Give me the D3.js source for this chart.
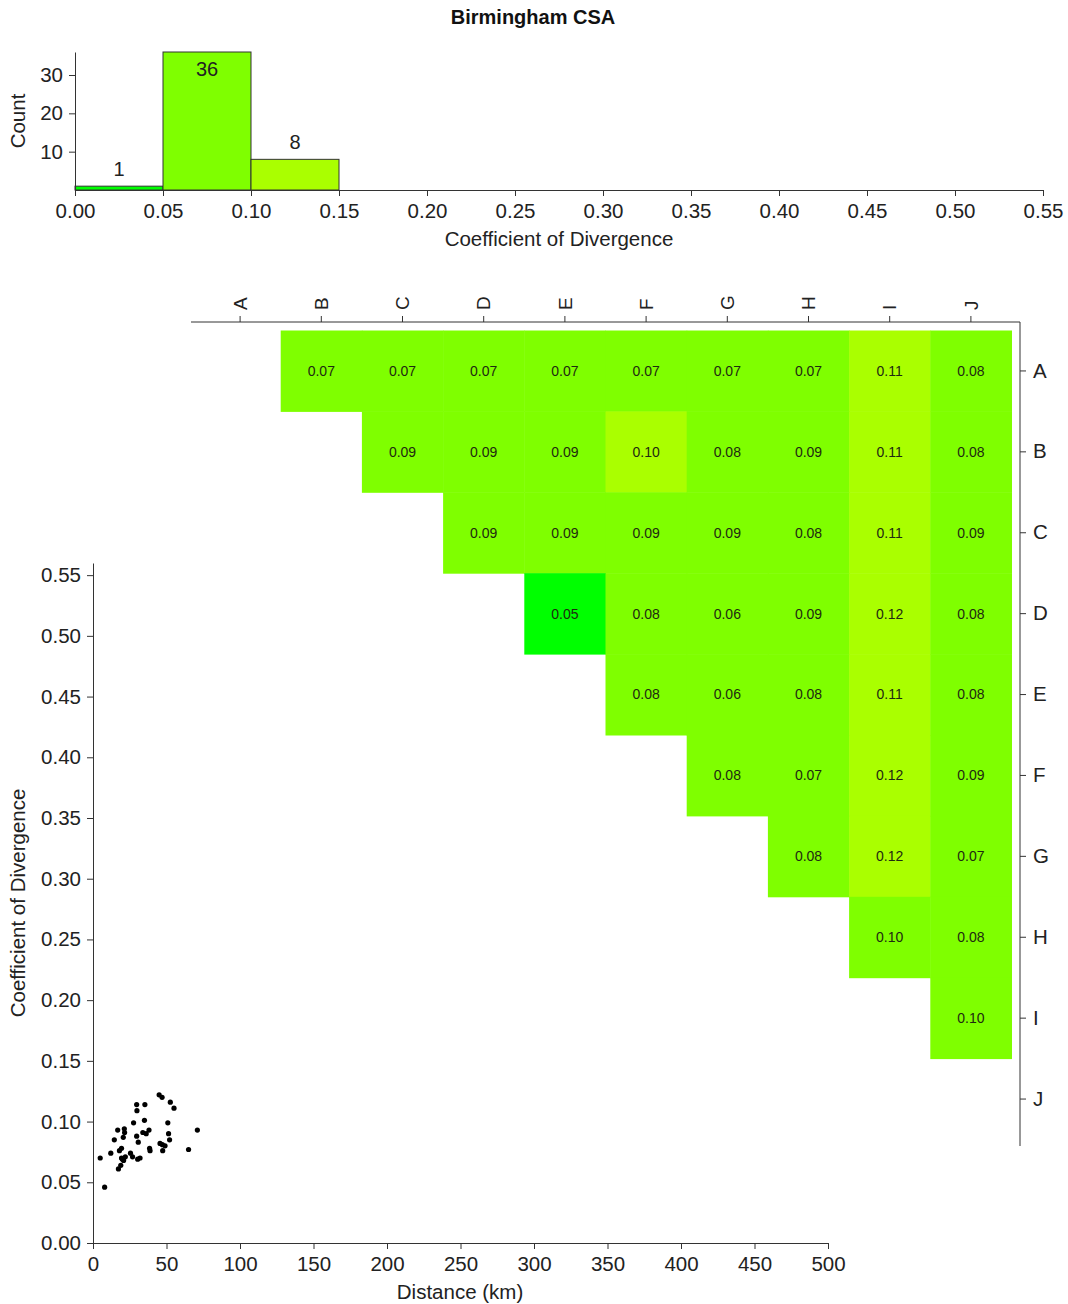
<!DOCTYPE html>
<html>
<head>
<meta charset="utf-8">
<script src="https://cdn.jsdelivr.net/npm/d3@7"></script>
<style>
  body { margin: 0; background: #fff; }
  svg { display: block; font-family: "Liberation Sans", Arial, sans-serif; }
  .axis path, .axis line { stroke: #333; stroke-width: 1; }
  .axis text { fill: #222; }
</style>
</head>
<body>
<svg id="chart" width="1068" height="1304"></svg>
<script>
// ---------- DATA ----------
const title = "Birmingham CSA";
const sites = ["A", "B", "C", "D", "E", "F", "G", "H", "I", "J"];

// histogram of COD values (bin width 0.05)
const binEdges = [0.00, 0.05, 0.10, 0.15, 0.20, 0.25, 0.30, 0.35, 0.40, 0.45, 0.50, 0.55];
const binCounts = [1, 36, 8, 0, 0, 0, 0, 0, 0, 0, 0];
const histYTicks = [10, 20, 30];

// pairwise COD matrix (row site vs column site), upper triangle only
const codRowA = [null, 0.07, 0.07, 0.07, 0.07, 0.07, 0.07, 0.07, 0.11, 0.08];
const codRowB = [null, null, 0.09, 0.09, 0.09, 0.102, 0.08, 0.09, 0.11, 0.08];
const codRowC = [null, null, null, 0.09, 0.09, 0.09, 0.09, 0.08, 0.11, 0.09];
const codRowD = [null, null, null, null, 0.049, 0.08, 0.06, 0.09, 0.12, 0.08];
const codRowE = [null, null, null, null, null, 0.08, 0.06, 0.08, 0.11, 0.08];
const codRowF = [null, null, null, null, null, null, 0.08, 0.07, 0.12, 0.09];
const codRowG = [null, null, null, null, null, null, null, 0.08, 0.12, 0.07];
const codRowH = [null, null, null, null, null, null, null, null, 0.098, 0.08];
const codRowI = [null, null, null, null, null, null, null, null, null, 0.098];
const codRowJ = [null, null, null, null, null, null, null, null, null, null];

// scatter: distance (km) vs COD for each pair
const distKm = [4.9, 7.9, 12.1, 14.5, 16.8, 17.3, 18.0, 18.9, 19.4, 19.4, 20.6, 21.3, 21.5, 20.8, 22.0,
                25.5, 26.9, 27.6, 29.7, 29.9, 29.7, 30.8, 30.4, 32.0, 33.9, 35.0, 35.3, 36.2, 38.5, 38.8,
                38.1, 45.6, 47.2, 47.4, 47.0, 49.0, 50.9, 51.4, 52.1, 52.6, 55.1, 65.0, 71.0, 45.0, 20.0];
const codVals = [0.070, 0.046, 0.074, 0.085, 0.093, 0.061, 0.076, 0.064, 0.070, 0.078, 0.087, 0.094, 0.091, 0.068, 0.071,
                 0.074, 0.071, 0.099, 0.114, 0.109, 0.088, 0.083, 0.069, 0.070, 0.091, 0.101, 0.114, 0.090, 0.078, 0.076,
                 0.093, 0.082, 0.081, 0.076, 0.120, 0.080, 0.099, 0.090, 0.085, 0.116, 0.111, 0.077, 0.093, 0.122, 0.069];

const colorThresholds = [0.05, 0.10];
const colorRange = ["#00ff00", "#7fff00", "#aaff00"];

// ---------- CHART ----------
const svg = d3.select("#chart");
const color = d3.scaleThreshold().domain(colorThresholds).range(colorRange);
const fmt2 = d3.format(".2f");
const FS = "20.5px";

svg.append("text").attr("x", 533).attr("y", 24).attr("text-anchor", "middle")
  .style("font-size", "20px").style("font-weight", "bold").attr("fill", "#111").text(title);

// ---- Histogram ----
const hx = d3.scaleLinear().domain([0, 0.55]).range([75, 1043]);
const hy = d3.scaleLinear().domain([0, 36]).range([190, 52]);
const bins = binCounts.map((c, i) => ({ x0: binEdges[i], x1: binEdges[i + 1], count: c }));
const maxCount = d3.max(binCounts);

svg.append("g").selectAll("rect").data(bins.filter(b => b.count > 0)).join("rect")
  .attr("x", d => hx(d.x0)).attr("y", d => hy(d.count))
  .attr("width", d => hx(d.x1) - hx(d.x0)).attr("height", d => hy(0) - hy(d.count))
  .attr("fill", d => color((d.x0 + d.x1) / 2)).attr("stroke", "#333").attr("stroke-width", 1);

svg.append("g").selectAll("text").data(bins.filter(b => b.count > 0)).join("text")
  .attr("x", d => hx((d.x0 + d.x1) / 2))
  .attr("y", d => d.count === maxCount ? hy(d.count) + 24 : hy(d.count) - 10)
  .attr("text-anchor", "middle").style("font-size", "20px").attr("fill", "#222")
  .text(d => d.count);

svg.append("g").attr("class", "axis").attr("transform", `translate(0,${hy(0)})`)
  .call(d3.axisBottom(hx).tickValues(binEdges).tickFormat(fmt2).tickSize(6).tickPadding(7).tickSizeOuter(0))
  .call(g => g.selectAll("text").style("font-size", FS).attr("fill", "#222"));
svg.append("g").attr("class", "axis").attr("transform", `translate(${hx(0)},0)`)
  .call(d3.axisLeft(hy).tickValues(histYTicks).tickSize(6).tickPadding(6).tickSizeOuter(0))
  .call(g => g.selectAll("text").style("font-size", FS).attr("fill", "#222"));

svg.append("text").attr("x", 559).attr("y", 246).attr("text-anchor", "middle")
  .style("font-size", FS).attr("fill", "#222").text("Coefficient of Divergence");
svg.append("text").attr("transform", "translate(25,121) rotate(-90)").attr("text-anchor", "middle")
  .style("font-size", FS).attr("fill", "#222").text("Count");

// ---- Matrix ----
const codRows = [codRowA, codRowB, codRowC, codRowD, codRowE, codRowF, codRowG, codRowH, codRowI, codRowJ];
const mx = d3.scaleBand().domain(sites).range([199.5, 1011.5]);
const my = d3.scaleBand().domain(sites).range([330.5, 1139.5]);
const cells = [];
codRows.forEach((row, r) => row.forEach((v, c) => {
  if (v !== null) cells.push({ row: sites[r], col: sites[c], v });
}));

const cellG = svg.append("g");
cellG.selectAll("rect").data(cells).join("rect")
  .attr("x", d => mx(d.col)).attr("y", d => my(d.row))
  .attr("width", mx.bandwidth() + 0.5).attr("height", my.bandwidth() + 0.5)
  .attr("fill", d => color(d.v));
cellG.selectAll("text").data(cells).join("text")
  .attr("x", d => mx(d.col) + mx.bandwidth() / 2).attr("y", d => my(d.row) + my.bandwidth() / 2)
  .attr("dy", "0.35em").attr("text-anchor", "middle")
  .style("font-size", "14px").attr("fill", "#1e2a10").text(d => fmt2(d.v));

const topAxis = svg.append("g").attr("class", "axis").attr("transform", "translate(0,322)")
  .call(d3.axisTop(mx).tickSize(6).tickSizeOuter(0));
topAxis.select(".domain").remove();
topAxis.selectAll("text").attr("transform", "rotate(-90)").attr("x", 12).attr("y", 0)
  .attr("dy", "0.35em").style("text-anchor", "start").style("font-size", "19px").attr("fill", "#222");
svg.append("line").attr("x1", 191).attr("x2", 1020).attr("y1", 322).attr("y2", 322)
  .attr("stroke", "#333");

const rightAxis = svg.append("g").attr("class", "axis").attr("transform", "translate(1020,0)")
  .call(d3.axisRight(my).tickSize(6).tickPadding(7).tickSizeOuter(0));
rightAxis.select(".domain").remove();
rightAxis.selectAll("text").style("font-size", FS).attr("fill", "#222");
svg.append("line").attr("x1", 1020).attr("x2", 1020).attr("y1", 322).attr("y2", 1146)
  .attr("stroke", "#333");

// ---- Scatter ----
const sx = d3.scaleLinear().domain([0, 500]).range([93, 828]);
const sy = d3.scaleLinear().domain([0, 0.56]).range([1243, 563]);
const pts = distKm.map((d, i) => ({ d, c: codVals[i] }));

svg.append("g").attr("class", "axis").attr("transform", `translate(0,${sy(0)})`)
  .call(d3.axisBottom(sx).tickValues(d3.range(0, 501, 50)).tickSize(6).tickPadding(7).tickSizeOuter(0))
  .call(g => g.selectAll("text").style("font-size", FS).attr("fill", "#222"));
svg.append("g").attr("class", "axis").attr("transform", `translate(${sx(0)},0)`)
  .call(d3.axisLeft(sy).tickValues(d3.range(0, 0.551, 0.05)).tickFormat(fmt2).tickSize(6).tickPadding(6).tickSizeOuter(0))
  .call(g => g.selectAll("text").style("font-size", FS).attr("fill", "#222"));

svg.append("g").selectAll("circle").data(pts).join("circle")
  .attr("cx", d => sx(d.d)).attr("cy", d => sy(d.c)).attr("r", 2.6).attr("fill", "#000");

svg.append("text").attr("x", 460).attr("y", 1299).attr("text-anchor", "middle")
  .style("font-size", FS).attr("fill", "#222").text("Distance (km)");
svg.append("text").attr("transform", "translate(25,903) rotate(-90)").attr("text-anchor", "middle")
  .style("font-size", FS).attr("fill", "#222").text("Coefficient of Divergence");
</script>
</body>
</html>
